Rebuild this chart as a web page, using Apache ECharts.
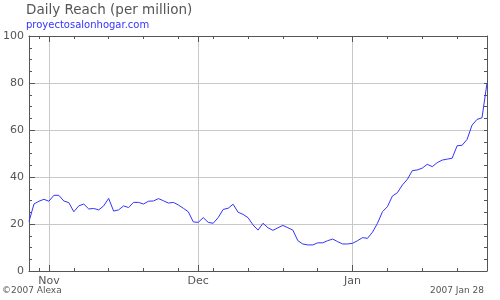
<!DOCTYPE html>
<html>
<head>
<meta charset="utf-8">
<script src="https://cdn.jsdelivr.net/npm/echarts@6/dist/echarts.min.js"></script>
<style>html,body{margin:0;padding:0;background:#fff}#c{width:500px;height:300px}</style>
</head>
<body>
<div id="c"></div>
<script>
// First day of data (categories are the consecutive days from here)
var startDate = '2006-10-28';
var dayCount = 93;
// Daily reach (per million), one value per day, Oct 28 2006 .. Jan 28 2007
var reach = [
  21, 28.5, 29.7, 30.5, 29.7, 32.2, 32.2, 29.8, 29.1, 25.2,
  27.7, 28.5, 26.4, 26.6, 26, 27.7, 30.9, 25.5, 26, 27.7,
  27, 29.2, 29.2, 28.5, 29.7, 29.8, 30.8, 29.9, 28.9, 29.2,
  28.1, 26.7, 25.2, 20.9, 20.7, 22.7, 20.7, 20.3, 22.7, 26.2,
  26.7, 28.4, 25, 24.1, 22.7, 19.6, 17.4, 20.3, 18.4, 17.3,
  18.4, 19.4, 18.4, 17.4, 12.9, 11.5, 11.1, 11.1, 12, 12,
  12.9, 13.6, 12.5, 11.5, 11.5, 11.8, 12.9, 14.2, 13.9, 16.5,
  20.3, 25.2, 27.4, 31.9, 33.3, 36.6, 39, 42.7, 43, 43.8,
  45.4, 44.4, 46.1, 47.2, 47.6, 48, 53.3, 53.5, 56, 62.1,
  64.5, 65.2, 80
];
var monthNames = ['Jan','Feb','Mar','Apr','May','Jun','Jul','Aug','Sep','Oct','Nov','Dec'];
var yTicks = [0, 20, 40, 60, 80, 100];

var categories = [];
(function(){
  var t = Date.parse(startDate + 'T00:00:00Z');
  for (var i = 0; i < dayCount; i++) {
    var d = new Date(t + i * 86400000);
    categories.push(d.toISOString().slice(0, 10));
  }
})();

function dt(v){ return new Date(v + 'T00:00:00Z'); }
function isMonday(i, v){ return dt(v).getUTCDay() === 1; }
function isMonthStart(i, v){ return dt(v).getUTCDate() === 1; }

var frame = '#555555';
var gridC = '#c8c8c8';
var txt = '#555555';
var font = 'DejaVu Sans';

function xAx(pos, tickLen, intervalFn, labels, split, lineShow){
  return {
    type: 'category', position: pos, data: categories, boundaryGap: false,
    axisLine: {show: lineShow, lineStyle: {color: frame, width: 1}},
    axisTick: {show: true, inside: true, length: tickLen, interval: intervalFn, lineStyle: {color: frame}},
    axisLabel: labels ? {show: true, interval: isMonthStart, color: txt, fontFamily: font, fontSize: 11, margin: 5,
      formatter: function(v){ return monthNames[dt(v).getUTCMonth()]; }} : {show: false},
    splitLine: {show: split, interval: isMonthStart, lineStyle: {color: gridC, width: 1}}
  };
}

var chart = echarts.init(document.getElementById('c'), null, {renderer: 'canvas'});
chart.setOption({
  animation: false,
  grid: {left: 27, right: 13, top: 36, bottom: 29, containLabel: false},
  xAxis: [
    xAx('bottom', 3, isMonday, false, false, true),
    xAx('bottom', 6, isMonthStart, true, true, false),
    xAx('top', 3, isMonday, false, false, true),
    xAx('top', 6, isMonthStart, false, false, false)
  ],
  yAxis: [
    {type: 'value', position: 'left', min: yTicks[0], max: yTicks[yTicks.length-1], interval: 20,
     axisLine: {show: true, lineStyle: {color: frame}},
     axisTick: {show: true, inside: true, length: 6, lineStyle: {color: frame}},
     minorTick: {show: true, splitNumber: 4, length: 3, lineStyle: {color: frame}},
     axisLabel: {color: txt, fontFamily: font, fontSize: 11, margin: 5},
     splitLine: {show: true, lineStyle: {color: gridC}}},
    {type: 'value', position: 'right', min: yTicks[0], max: yTicks[yTicks.length-1], interval: 20,
     axisLine: {show: true, lineStyle: {color: frame}},
     axisTick: {show: true, inside: true, length: 3, lineStyle: {color: frame}},
     minorTick: {show: true, splitNumber: 4, length: 3, lineStyle: {color: frame}},
     axisLabel: {show: false},
     splitLine: {show: false}}
  ],
  series: [{
    type: 'line', xAxisIndex: 0, yAxisIndex: 0, data: reach,
    showSymbol: false, symbol: 'none', smooth: false,
    lineStyle: {color: '#3333ff', width: 1}, z: 5
  }],
  graphic: [
    {type: 'text', left: 26, top: 3, style: {text: 'Daily Reach (per million)', fill: txt, font: '13.5px "DejaVu Sans"'}},
    {type: 'text', left: 26, top: 20, style: {text: 'proyectosalonhogar.com', fill: '#3333ff', font: '10px "DejaVu Sans"'}},
    {type: 'text', left: 2, top: 286, style: {text: '\u00a92007 Alexa', fill: txt, font: '9px "DejaVu Sans"'}},
    {type: 'text', right: 16, top: 286, style: {text: '2007 Jan 28', fill: txt, font: '9px "DejaVu Sans"'}}
  ]
});
</script>
</body>
</html>
